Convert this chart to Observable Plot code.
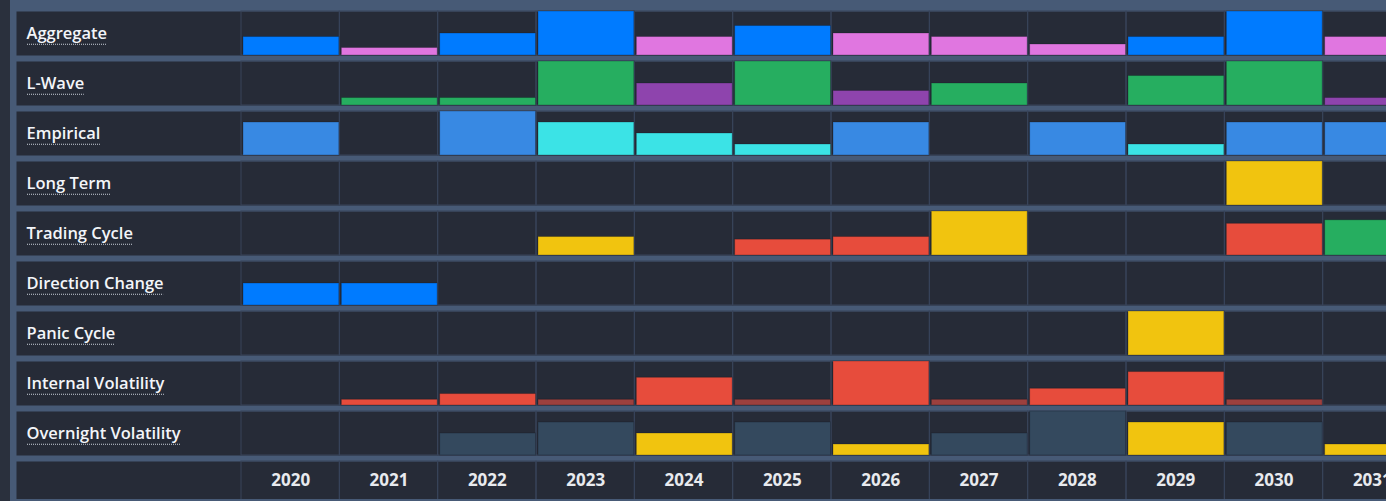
<!DOCTYPE html>
<html>
<head>
<meta charset="utf-8">
<script src="https://cdn.jsdelivr.net/npm/d3@7"></script>
<script src="https://cdn.jsdelivr.net/npm/@observablehq/plot@0.6"></script>
<style>
  html, body { margin: 0; padding: 0; background: #2a303d; overflow: hidden; width: 1386px; height: 501px; }
  #wrap { margin-left: 10px; width: 1411px; height: 501px; background: #475a76; overflow: hidden; }
  #chart { width: 1411px; height: 499px; overflow: hidden; }
  #chart svg { display: block; max-width: none !important; width: 1411px !important; height: 505px !important; }
</style>
</head>
<body>
<div id="wrap"><div id="chart"></div></div>
<script>
const years = [2020, 2021, 2022, 2023, 2024, 2025, 2026, 2027, 2028, 2029, 2030, 2031];
const categories = ["Aggregate", "L-Wave", "Empirical", "Long Term", "Trading Cycle",
  "Direction Change", "Panic Cycle", "Internal Volatility", "Overnight Volatility"];

// scores per year (0-100), and tone per year ("" = no bar)
const aggregateValues = [42, 17, 50, 100, 42, 67, 50, 42, 25, 42, 100, 42];
const aggregateTones  = ["blue","pink","blue","blue","pink","blue","pink","pink","pink","blue","blue","pink"];
const lwaveValues = [0, 17, 17, 100, 50, 100, 33, 50, 0, 67, 100, 17];
const lwaveTones  = ["","green","green","green","purple","green","purple","green","","green","green","purple"];
const empiricalValues = [75, 0, 100, 75, 50, 25, 75, 0, 75, 25, 75, 75];
const empiricalTones  = ["sky","","sky","cyan","cyan","cyan","sky","","sky","cyan","sky","sky"];
const longTermValues = [0, 0, 0, 0, 0, 0, 0, 0, 0, 0, 100, 0];
const longTermTones  = ["","","","","","","","","","","yellow",""];
const tradingValues = [0, 0, 0, 42, 0, 36, 42, 100, 0, 0, 72, 80];
const tradingTones  = ["","","","yellow","","red","red","yellow","","","red","green"];
const directionValues = [50, 50, 0, 0, 0, 0, 0, 0, 0, 0, 0, 0];
const directionTones  = ["blue","blue","","","","","","","","","",""];
const panicValues = [0, 0, 0, 0, 0, 0, 0, 0, 0, 100, 0, 0];
const panicTones  = ["","","","","","","","","","yellow","",""];
const internalValues = [0, 13, 26, 13, 63, 13, 100, 13, 38, 76, 13, 0];
const internalTones  = ["","red","red","darkred","red","darkred","red","darkred","red","red","darkred",""];
const overnightValues = [0, 0, 50, 75, 50, 75, 25, 50, 100, 75, 75, 25];
const overnightTones  = ["","","slate","slate","yellow","slate","yellow","slate","slate","yellow","slate","yellow"];

const toneKeys = ["blue","pink","green","purple","sky","cyan","yellow","red","darkred","slate"];
const toneHex  = ["#007bff","#e076e0","#26ae60","#8e44ad","#3889e3","#3be3e6","#f1c40f","#e74c3c","#9c403e","#34495e"];

const seriesValues = [aggregateValues, lwaveValues, empiricalValues, longTermValues, tradingValues,
  directionValues, panicValues, internalValues, overnightValues];
const seriesTones = [aggregateTones, lwaveTones, empiricalTones, longTermTones, tradingTones,
  directionTones, panicTones, internalTones, overnightTones];

const table = [];
categories.forEach((c, ci) => {
  years.forEach((y, yi) => {
    const v = seriesValues[ci][yi];
    if (v > 0) table.push({category: c, year: y, value: v, tone: seriesTones[ci][yi]});
  });
});

const yearRowKey = "\u00a0";
const bg = "#262b37";
const sep = "#38445a";
const gap = "#475a76";

const plot = Plot.plot({
  width: 1411,
  height: 505,
  marginTop: 11,
  marginBottom: 0,
  marginLeft: 231,
  marginRight: 0,
  style: {background: gap, fontFamily: "'Open Sans', sans-serif"},
  x: {type: "band", domain: years, padding: 0, round: false, axis: null},
  y: {domain: [0, 100], axis: null},
  fy: {domain: [...categories, yearRowKey], paddingInner: 0.12, paddingOuter: 0, round: false, axis: null},
  color: {domain: toneKeys, range: toneHex},
  marks: [
    Plot.frame({fill: bg, insetLeft: -225}),
    Plot.cell(years, {x: d => d, fill: "none", stroke: sep, strokeWidth: 1}),
    Plot.barY(table, {x: "year", y: "value", fy: "category", fill: "tone",
      stroke: "#0d1018", strokeOpacity: 0.25, strokeWidth: 1, insetLeft: 2, insetRight: 0.5}),
    Plot.text(categories, {fy: d => d, text: d => d, frameAnchor: "left", textAnchor: "start",
      dx: -215, fill: "#f3f5f9", fontSize: 16.5, fontWeight: 600}),
    Plot.text(years, {x: d => d, fy: () => yearRowKey, text: d => String(d), frameAnchor: "middle",
      dy: -3, fill: "#e8eaee", fontSize: 17, fontWeight: 700})
  ]
});

document.getElementById("chart").append(plot);

// dotted underline beneath each row label, sized from the rendered text
d3.select(plot).selectAll("text")
  .filter(function() { return categories.includes(this.textContent); })
  .each(function() {
    const b = this.getBBox();
    const t = this.getAttribute("transform");
    const line = d3.select(this.parentNode).append("line")
      .attr("x1", b.x + 0.5).attr("x2", b.x + b.width - 0.5)
      .attr("y1", b.y + b.height + 0.5).attr("y2", b.y + b.height + 0.5)
      .attr("stroke", "#c9ced8").attr("stroke-width", 1).attr("stroke-dasharray", "1 1");
    if (t) line.attr("transform", t);
  });
</script>
</body>
</html>
